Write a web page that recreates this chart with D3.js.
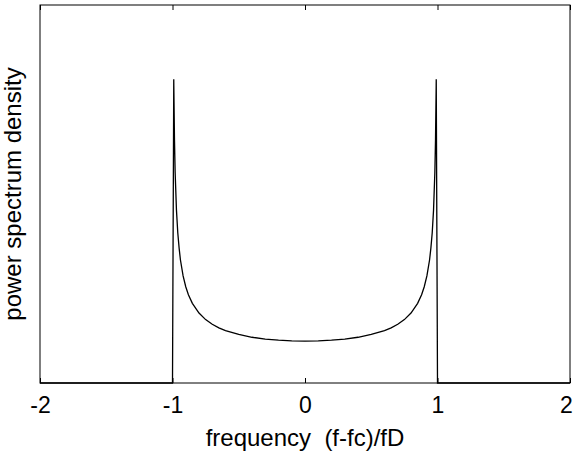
<!DOCTYPE html>
<html><head><meta charset="utf-8">
<script src="https://cdn.jsdelivr.net/npm/d3@7"></script>
<style>body{margin:0;background:#fff;}svg{display:block;}</style>
</head><body>
<div id="chart"></div>
<script>
// normalized frequency (f-fc)/fD
const freq = [-2, -1.0, -0.9905, -0.99, -0.985, -0.98, -0.97, -0.96, -0.95, -0.94, -0.92, -0.9, -0.88, -0.85, -0.8, -0.75, -0.7, -0.65, -0.6, -0.5, -0.4, -0.3, -0.2, -0.1, 0,
              0.1, 0.2, 0.3, 0.4, 0.5, 0.6, 0.65, 0.7, 0.75, 0.8, 0.85, 0.88, 0.9, 0.92, 0.94, 0.95, 0.96, 0.97, 0.98, 0.985, 0.99, 0.9905, 1.0, 2];
// power spectrum density
const psd = [0, 0, 2.41, 2.36, 1.93, 1.67, 1.37, 1.19, 1.07, 0.976, 0.85, 0.764, 0.701, 0.632, 0.555, 0.503, 0.466, 0.438, 0.416, 0.385, 0.363, 0.349, 0.340, 0.335, 0.333,
             0.335, 0.340, 0.349, 0.363, 0.385, 0.416, 0.438, 0.466, 0.503, 0.555, 0.632, 0.701, 0.764, 0.85, 0.976, 1.07, 1.19, 1.37, 1.67, 1.93, 2.36, 2.41, 0, 0];
const xTicks = [-2, -1, 0, 1, 2];
const xTickLabels = ["-2", "-1", "0", "1", "2"];
const xLabel = "frequency  (f-fc)/fD";
const yLabel = "power spectrum density";

const W = 574, H = 454;
const m = {left: 40, right: 4, top: 5, bottom: 71};
const FONT = "Arial, 'Liberation Sans', sans-serif";
const svg = d3.select("#chart").append("svg").attr("width", W).attr("height", H)
  .style("font-family", FONT);
const x = d3.scaleLinear().domain([-2, 2]).range([m.left, W - m.right]);
const y = d3.scaleLinear().domain([0, 3]).range([H - m.bottom, m.top]);

// curve
const data = freq.map((f, i) => [f, psd[i]]);
svg.append("path").datum(data)
  .attr("fill", "none").attr("stroke", "#000").attr("stroke-width", 1.3)
  .attr("d", d3.line().x(d => x(d[0])).y(d => y(d[1])));

// box
svg.append("rect").attr("x", x(-2)).attr("y", y(3)).attr("width", x(2) - x(-2)).attr("height", y(0) - y(3))
  .attr("fill", "none").attr("stroke", "#000").attr("stroke-width", 1);

// bottom axis (inward ticks)
const bottomAxis = svg.append("g").attr("transform", `translate(0,${y(0)})`)
  .call(d3.axisBottom(x).tickValues(xTicks).tickFormat((d, i) => xTickLabels[i])
    .tickSizeInner(-5).tickSizeOuter(0).tickPadding(14));
bottomAxis.select(".domain").remove();
bottomAxis.selectAll("text").attr("font-size", 23).attr("fill", "#000").attr("font-family", FONT)
  .attr("dx", (d, i) => i === xTicks.length - 1 ? -4 : 0);
bottomAxis.selectAll("line").attr("stroke", "#000");
// top axis ticks
const topAxis = svg.append("g").attr("transform", `translate(0,${y(3)})`)
  .call(d3.axisTop(x).tickValues(xTicks).tickFormat("").tickSizeInner(-5).tickSizeOuter(0));
topAxis.select(".domain").remove();
topAxis.selectAll("line").attr("stroke", "#000");

svg.append("text").attr("x", x(0)).attr("y", 446).attr("text-anchor", "middle")
  .attr("font-size", 24).style("white-space", "pre").text(xLabel);
svg.append("text").attr("transform", `translate(21,${(y(0) + y(3)) / 2}) rotate(-90)`)
  .attr("text-anchor", "middle").attr("font-size", 24).text(yLabel);
</script>
</body></html>
